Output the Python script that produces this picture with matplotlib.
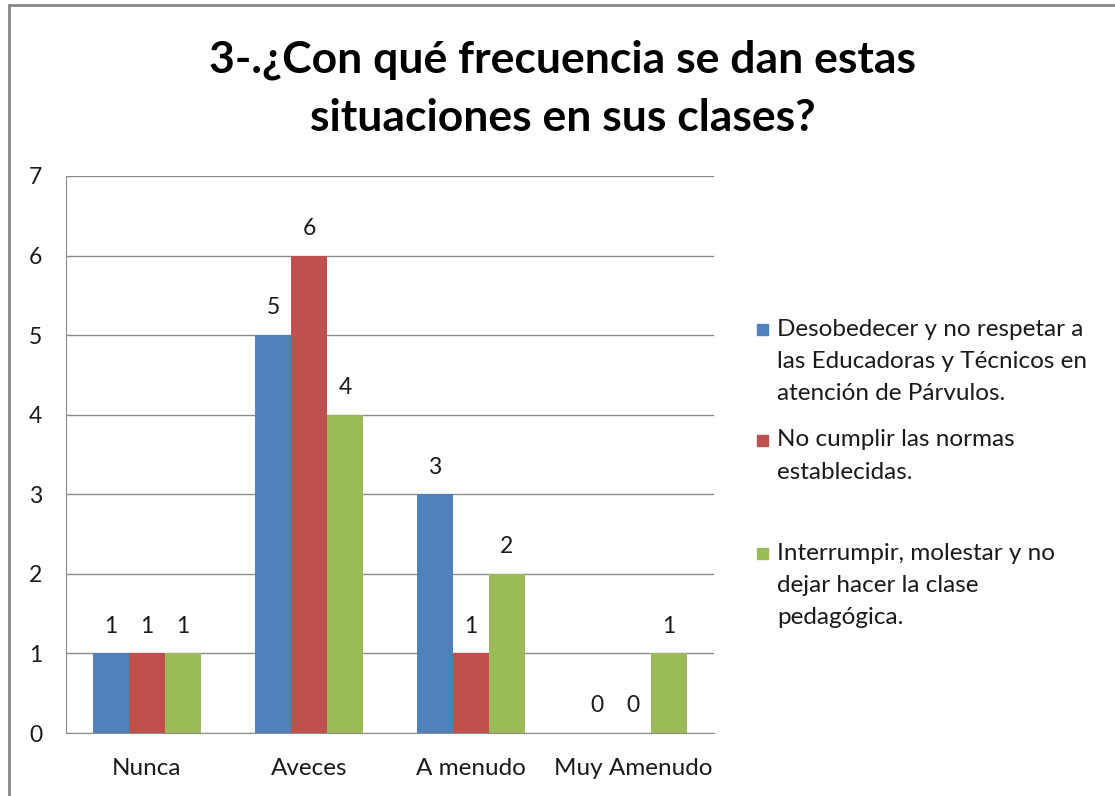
import matplotlib.pyplot as plt
from matplotlib.patches import Rectangle
import numpy as np

plt.rcParams['font.family'] = ['Lato', 'DejaVu Sans']

# Datos
categorias = ["Nunca", "Aveces", "A menudo", "Muy Amenudo"]
desobedecer = [1, 5, 3, 0]
no_cumplir = [1, 6, 1, 0]
interrumpir = [1, 4, 2, 1]
series = [desobedecer, no_cumplir, interrumpir]
etiquetas = [
    "Desobedecer y no respetar a\nlas Educadoras y Técnicos en\natención de Párvulos.",
    "No cumplir las normas\nestablecidas.",
    "Interrumpir, molestar y no\ndejar hacer la clase\npedagógica.",
]
colores = ["#4F81BD", "#C0504D", "#9BBB59"]
titulo = ["3-.¿Con qué frecuencia se dan estas", "situaciones en sus clases?"]

W, H = 1115, 796
fig = plt.figure(figsize=(W / 100, H / 100), dpi=100)
ax = fig.add_axes([66 / W, 1 - 733 / H, (714 - 66) / W, (733 - 176) / H])

x = np.arange(len(categorias))
ancho = 0.222
for i, (vals, col) in enumerate(zip(series, colores)):
    pos = x + (i - 1) * ancho
    ax.bar(pos, vals, width=ancho, color=col, zorder=3)
    for px, v in zip(pos, vals):
        ax.annotate(str(v), (px, v), xytext=(0, 12), textcoords="offset points",
                    ha="center", va="bottom", fontsize=16.5, color="#1a1a1a")

ax.set_xlim(-0.5, 3.5)
ax.set_ylim(0, 7)
ax.set_yticks(range(0, 8))
ax.set_xticks(x)
ax.set_xticklabels(categorias)
ax.tick_params(axis="y", length=0, pad=17, labelsize=16.5, labelcolor="#1a1a1a")
ax.tick_params(axis="x", length=0, pad=18, labelsize=17.5, labelcolor="#1a1a1a")
ax.grid(axis="y", color="#8c8c8c", linewidth=1, zorder=0)
for lado in ["top", "right"]:
    ax.spines[lado].set_visible(False)
for lado in ["left", "bottom"]:
    ax.spines[lado].set_color("#8c8c8c")
    ax.spines[lado].set_zorder(4)

# Titulo
for k, linea in enumerate(titulo):
    fig.text(563 / W, 1 - (60 + 58 * k) / H, linea, ha="center", va="center",
             fontsize=32, fontweight="bold", color="#000000")

# Leyenda manual
y_inicio = [329, 440, 553]
paso = 32.5
for lab, col, y0 in zip(etiquetas, colores, y_inicio):
    for k, linea in enumerate(lab.split("\n")):
        fig.text(777 / W, 1 - (y0 + k * paso) / H, linea, ha="left", va="center",
                 fontsize=17.5, color="#1a1a1a")
    fig.add_artist(Rectangle((757 / W, 1 - (y0 + 6) / H), 11 / W, 11 / H,
                             transform=fig.transFigure, color=col))

# Borde del grafico
fig.add_artist(Rectangle((9 / W, -0.05), 1.1, 1 - 5 / H + 0.05, transform=fig.transFigure,
                         fill=False, edgecolor="#878787", linewidth=2))

fig.savefig("out.png", dpi=100)
